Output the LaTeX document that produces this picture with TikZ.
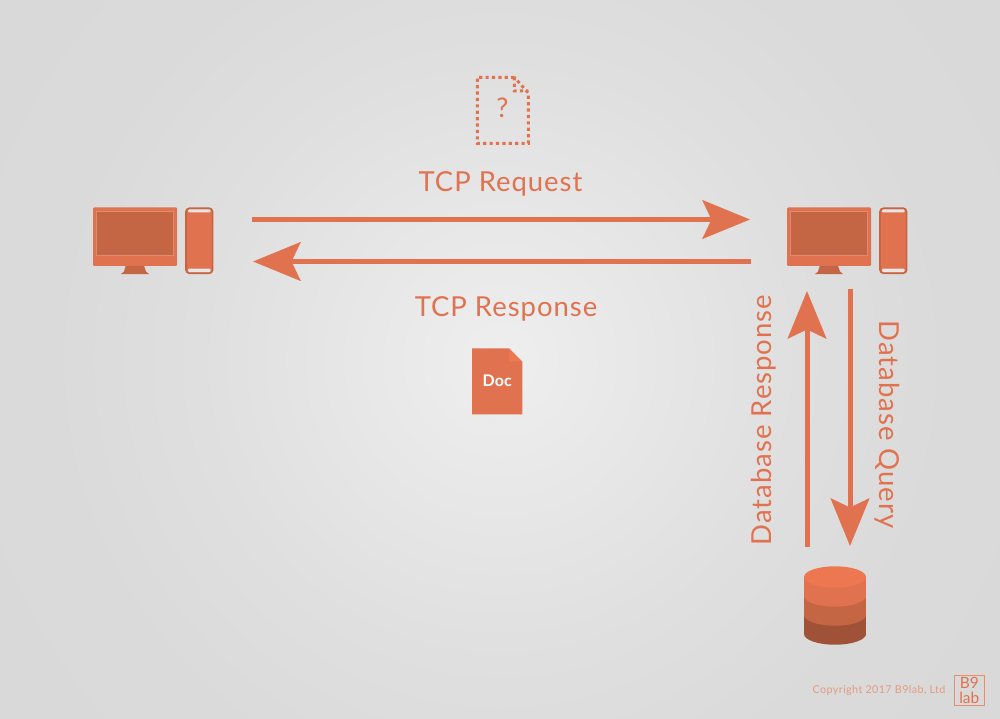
\documentclass[tikz,border=0pt]{standalone}
\usepackage{fontspec}
\usepackage{tikz}
\usepackage{xcolor}
\usetikzlibrary{arrows.meta, positioning}

\setmainfont{Lato}
\newfontfamily\widefont[LetterSpace=3.5]{Lato}

\definecolor{flame}{HTML}{E0724F}
\definecolor{flamelight}{HTML}{EC7751}
\definecolor{flamedark}{HTML}{C46544}
\definecolor{flamedeep}{HTML}{9F5237}
\definecolor{flamepale}{HTML}{E59A80}
\definecolor{slot}{HTML}{E6E6E6}

\pgfdeclareradialshading{backglow}{\pgfpointorigin}{%
  rgb(0bp)=(0.935,0.935,0.935);
  rgb(5.8bp)=(0.905,0.905,0.905);
  rgb(11.5bp)=(0.875,0.875,0.875);
  rgb(17.3bp)=(0.855,0.855,0.855);
  rgb(25bp)=(0.85,0.85,0.85);
  rgb(50bp)=(0.85,0.85,0.85)}

\tikzset{
  pcicon/.pic={
    \fill[flame, rounded corners=1pt] (-60,-33) rectangle (24,25.3);
    \fill[flamedark] (-56.5,-29.5) rectangle (20.7,15.2);
    \draw[flame!60!flamedark!80!white, line width=0.5pt] (-56.5,-29.5) rectangle (20.7,15.2);
    \fill[flamedark] (-27.3,25.3) -- (-9,25.3) -- (-7,31) -- (-4,33.5) -- (-32,33.5) -- (-29,31) -- cycle;
    \filldraw[fill=flame, draw=flamedark, line width=1.6pt, rounded corners=3.5pt] (33,-32.3) rectangle (59.6,32.8);
    \fill[slot, rounded corners=1pt] (35,-31) rectangle (57.6,-28);
    \fill[slot, rounded corners=1pt] (35,28) rectangle (57.6,31.5);
  },
  iconbox/.style={minimum width=120pt, minimum height=67pt, inner sep=0pt, outer sep=0pt},
  flow/.style={draw=flame, line width=5pt, -{Stealth[length=47.5pt, width=38.5pt, inset=9pt]}},
  biglabel/.style={text=flame, font=\widefont\fontsize{27.5}{27.5}\selectfont, inner sep=0pt}
}

\begin{document}
\begin{tikzpicture}[x=1pt, y=-1pt]

    \useasboundingbox (0,0) rectangle (1000,719);
    \begin{scope}
        \clip (0,0) rectangle (1000,719);
        \shade[shading=backglow] (-150,-290) rectangle (1150,1010);
    \end{scope}

    \node[iconbox] (client) at (153,240.5) {};
    \node[iconbox] (server) at (847,240.5) {};
    \pic at (client.center) {pcicon};
    \pic at (server.center) {pcicon};

    % database
    \node[minimum width=62pt, minimum height=78pt, inner sep=0pt, outer sep=0pt] (db) at (835,605) {};
    \foreach \y/\col in {634/flamedeep, 615/flamedark, 596/flame} {
        \fill[\col] (804,\y-19) rectangle (866,\y);
        \fill[\col] (835,\y) ellipse[x radius=31, y radius=10.7];
    }
    \fill[flamelight] (835,577) ellipse[x radius=31, y radius=10.7];

    % blank document
    \node[minimum width=51pt, minimum height=66pt, inner sep=0pt] (query) at (502.8,110.3) {};
    \draw[flame, line width=3pt, dash pattern=on 3.2pt off 3.2pt]
        (514.3,77.3) -- (477.3,77.3) -- (477.3,143.3) -- (528.3,143.3) -- (528.3,93) -- cycle
        (514.3,77.3) -- (514.3,91) -- (528.3,91);
    \node[text=flame, font=\fontsize{27}{27}\selectfont, inner sep=0pt] (mark) at (502.5,108) {?};

    % filled document
    \fill[flame] (472,348.3) -- (509,348.3) -- (522.3,361.7) -- (522.3,414.3) -- (472,414.3) -- cycle;
    \fill[flamelight] (509,348.3) -- (522.3,361.7) -- (509,361.7) -- cycle;
    \node[text=white, font=\fontsize{16}{16}\selectfont\bfseries, inner sep=0pt] (doc) at (497.2,381) {Doc};

    \draw[flow, shorten <=39pt, shorten >=37pt] ([yshift=21pt]client.east) -- ([yshift=21pt]server.west);
    \draw[flow, shorten <=36pt, shorten >=40pt] ([yshift=-21pt]server.west) -- ([yshift=-21pt]client.east);
    \draw[flow, shorten <=19pt, shorten >=17pt] ([xshift=-28pt]db.north) -- ([xshift=-40pt]server.south);
    \draw[flow, shorten <=15pt, shorten >=20pt] ([xshift=3pt]server.south) -- ([xshift=15pt]db.north);

    \node[biglabel] (request) at (500.5,184) {TCP Request};
    \node[biglabel] (response) at (506,309) {TCP Response};
    \node[biglabel, rotate=90] (dbresponse) at (763.5,420) {Database Response};
    \node[biglabel, rotate=-90] (dbquery) at (887.5,424.5) {Database Query};

    \node[text=flamepale, font=\widefont\fontsize{10.8}{11}\selectfont, inner sep=0pt] (copy) at (879,691) {Copyright 2017 B9lab, Ltd};
    \node[draw=flame!80!white, text=flame, line width=1pt, minimum width=30pt, minimum height=30.5pt, inner sep=0pt, align=center, font=\fontsize{15.5}{14.5}\selectfont] (logo) at (969.3,690.3) {B9\\lab};

\end{tikzpicture}
\end{document}
